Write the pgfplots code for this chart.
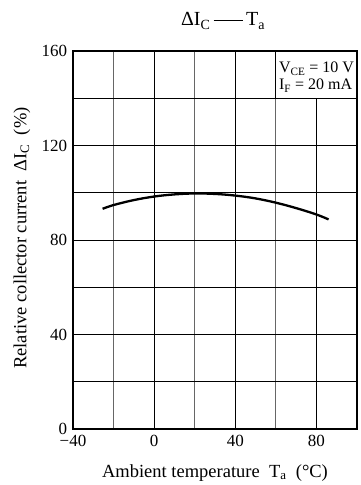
\documentclass[border=0pt]{standalone}
\usepackage{fontspec}
\setmainfont{Liberation Serif}
\usepackage{pgfplots}
\pgfplotsset{compat=1.18}
\begin{document}
\fontsize{17}{20}\selectfont
\begin{tikzpicture}
\begin{axis}[
 name=ax,
 width=284pt, height=378pt, scale only axis,
 xmin=-40, xmax=100, ymin=0, ymax=160,
 xtick={-40,0,40,80}, xticklabels={−40,0,40,80},
 minor xtick={-20,20,60},
 ytick={0,40,80,120,160}, yticklabels={0,40,80,120,160},
 minor ytick={20,60,100,140},
 grid=both,
 major grid style={black, line width=0.8pt},
 minor grid style={black, line width=0.8pt},
 minor x grid style={black!60, line width=1.1pt},
 major tick length=0pt, minor tick length=0pt,
 axis line style={black, line width=1.2pt},
 tick label style={font=\fontsize{17}{20}\selectfont},
 /pgf/number format/assume math mode=true,
]
\addplot[black, line width=2.3pt, smooth, tension=0.6] coordinates {
(-25.4,93.2) (-20,94.8) (-10,96.9) (0,98.4) (10,99.3) (20,99.7) (30,99.5) (40,98.8) (50,97.6) (60,95.8) (70,93.5) (80,90.8) (86,88.7)
};
\fill[white] (axis cs:60,140) rectangle (axis cs:100,160);
\draw[black, line width=0.8pt] (axis cs:60,140) -- (axis cs:60,160);
\draw[black, line width=0.8pt] (axis cs:60,140) -- (axis cs:100,140);
\node[anchor=base west, inner sep=0pt, font=\fontsize{16}{19}\selectfont] at (axis cs:61.5,150.8) {V\textsubscript{CE} = 10 V};
\node[anchor=base west, inner sep=0pt, font=\fontsize{16}{19}\selectfont] at (axis cs:61.5,143.5) {I\textsubscript{F} = 20 mA};
\end{axis}
\draw[black, line width=1.2pt] (ax.south west) rectangle (ax.north east);
\node[anchor=base, inner sep=0pt, font=\fontsize{20}{24}\selectfont] at ([xshift=8pt,yshift=25pt]ax.north) {ΔI\textsubscript{C}\,\rule[0.24em]{1.45em}{0.05em}\,T\textsubscript{a}};
\node[anchor=base, inner sep=0pt, font=\fontsize{18.5}{22}\selectfont] at ([yshift=-48pt]ax.south) {Ambient temperature\ \ T\textsubscript{a}\ \ (°C)};
\node[rotate=90, inner sep=0pt, font=\fontsize{18.5}{22}\selectfont] at ([xshift=-51pt,yshift=2pt]ax.west) {Relative collector current\ \ ΔI\textsubscript{C}\ \ (\%)};
\pgfresetboundingbox
\path[use as bounding box] ([xshift=-73pt,yshift=-56pt]ax.south west) rectangle ([xshift=4pt,yshift=51pt]ax.north east);
\end{tikzpicture}
\end{document}
